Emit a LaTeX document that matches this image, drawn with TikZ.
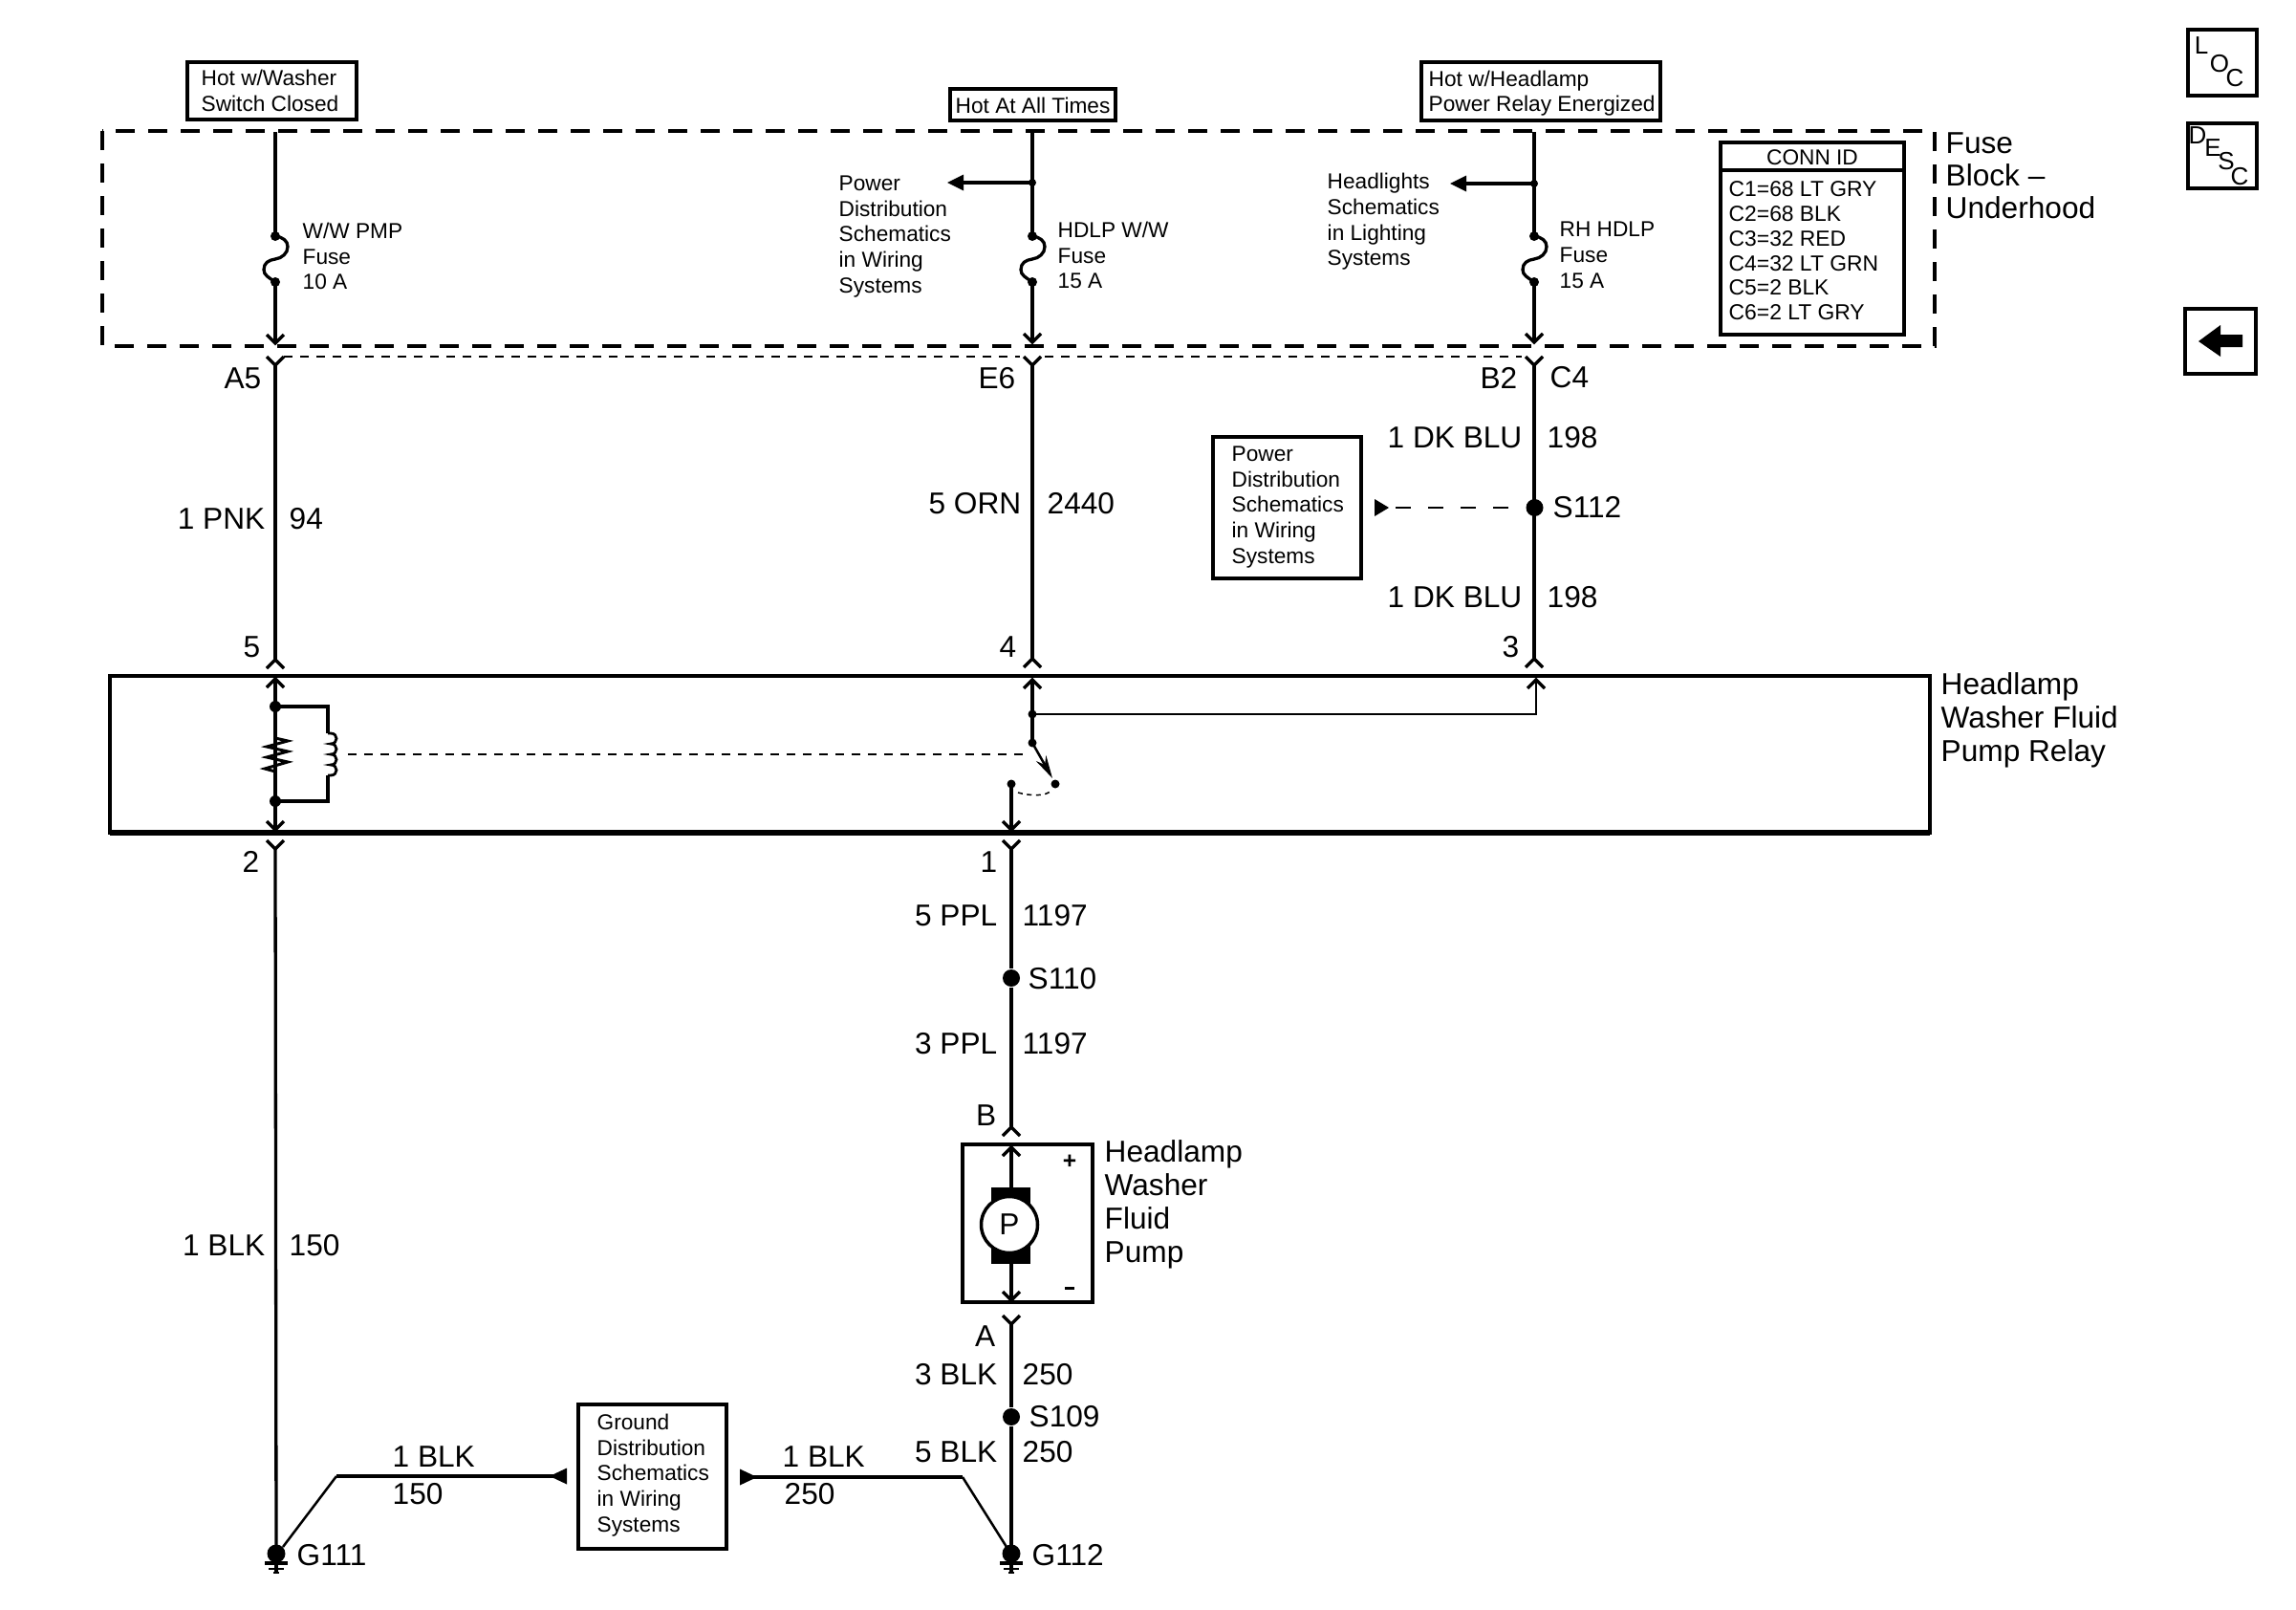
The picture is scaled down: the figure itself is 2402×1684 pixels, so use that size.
\documentclass[tikz,border=0pt]{standalone}
\usepackage{fontspec}
\usetikzlibrary{arrows.meta}
\setmainfont{Liberation Sans}
\tikzset{
  x=0.1mm,y=-0.1mm,
  wire/.style={line width=0.33mm,line cap=butt,line join=miter},
  hbox/.style={draw,line width=0.45mm,fill=white},
  lab/.style={font=\fontsize{9pt}{10pt}\selectfont,inner sep=0pt,align=left},
  tiny/.style={font=\fontsize{6.45pt}{7.6pt}\selectfont,inner sep=0pt,align=left},
  btn/.style={font=\fontsize{7.4pt}{8pt}\selectfont,inner sep=0pt},
  dot/.style={circle,fill=black,inner sep=0pt,minimum size=#1},
  dot/.default=1mm,
  coarse/.style={line width=0.38mm,dash pattern=on 2mm off 1.4mm},
  fine/.style={line width=0.17mm,dash pattern=on 0.85mm off 0.85mm},
}
% chevron with its vertex at the top: arms run downward
\newcommand{\chevUp}[1]{\draw[wire] ([shift={(-9,9)}]#1) -- (#1) -- ([shift={(9,9)}]#1);}
% chevron with its vertex at the bottom: arms run upward
\newcommand{\chevDn}[1]{\draw[wire] ([shift={(-9,-9)}]#1) -- (#1) -- ([shift={(9,-9)}]#1);}
\newcommand{\gnd}[1]{%
  \draw[line width=0.33mm] ([shift={(-12,10)}]#1) -- ([shift={(12,10)}]#1);
  \draw[line width=0.28mm] ([shift={(-8,16)}]#1) -- ([shift={(8,16)}]#1);
  \draw[line width=0.25mm] ([shift={(-3,20)}]#1) -- ([shift={(3,20)}]#1);
  \draw[wire] (#1) -- ([shift={(0,20)}]#1);}
\begin{document}
\begin{tikzpicture}
\useasboundingbox (0,0) rectangle (2402,1684);
% ---------- coordinates ----------
\coordinate (w1top) at (288,138);
\coordinate (w1f1) at (288,247);
\coordinate (w1f2) at (288,295);
\coordinate (w1tip) at (288,359);
\coordinate (w1y) at (288,382);
\coordinate (w1m) at (288,690);
\coordinate (w1i) at (288,710);
\coordinate (w1a) at (288,739);
\coordinate (w1b) at (288,838);
\coordinate (w1o) at (288,868);
\coordinate (w1d) at (288,888);
\coordinate (w2top) at (1080,138);
\coordinate (w2br) at (1080,191);
\coordinate (w2f1) at (1080,247);
\coordinate (w2f2) at (1080,295);
\coordinate (w2tip) at (1080,358);
\coordinate (w2y) at (1080,382);
\coordinate (w2m) at (1080,689);
\coordinate (w2i) at (1080,711);
\coordinate (w2j) at (1080,747);
\coordinate (w2s) at (1080,777);
\coordinate (w3top) at (1605,138);
\coordinate (w3br) at (1605,192);
\coordinate (w3f1) at (1605,247);
\coordinate (w3f2) at (1605,295);
\coordinate (w3tip) at (1605,358);
\coordinate (w3y) at (1605,382);
\coordinate (w3m) at (1605,689);
\coordinate (w3i) at (1607,711);
\coordinate (w3c) at (1607,747);
\coordinate (w4s) at (1058,820);
\coordinate (w4o) at (1058,868);
\coordinate (w4y) at (1058,888);
\coordinate (pm) at (1058,1179);
\coordinate (pi) at (1058,1200);
\coordinate (po) at (1058,1360);
\coordinate (py) at (1058,1385);
\coordinate (g1) at (289,1625);
\coordinate (g2) at (1058,1625);
\coordinate (gb1) at (352,1544);
\coordinate (gt1) at (582,1544);
\coordinate (gb2) at (1007,1545);
\coordinate (gt2) at (785,1545);
\coordinate (sw) at (1104,820);
\coordinate (rc1) at (343,739);
\coordinate (rc2) at (343,767);
\coordinate (rc3) at (343,811);
\coordinate (rc4) at (343,838);
% ---------- frames ----------
\draw[coarse] (107,137) rectangle (2024,362);
\draw[fine] (297,373) -- (1067,373) (1093,373) -- (1592,373);
\draw[line width=0.45mm] (115,707) rectangle (2019,871);
\draw[line width=0.55mm] (115,871) -- (2019,871);
% ---------- header boxes ----------
\node[hbox,minimum width=17.7mm,minimum height=6mm,inner sep=0pt] (hot1) at (284.5,95) {};
\node[tiny,anchor=west] (hot1t) at (210,95) {Hot w/Washer\\Switch Closed};
\node[hbox,minimum width=17.3mm,minimum height=3.3mm,inner sep=0pt] (hot2) at (1080.5,109.5) {};
\node[tiny,anchor=west] (hot2t) at (999,110) {Hot At All Times};
\node[hbox,minimum width=25mm,minimum height=6.1mm,inner sep=0pt] (hot3) at (1612,95.5) {};
\node[tiny,anchor=west] (hot3t) at (1494,97.5) {Hot w/Headlamp\\Power Relay Energized};
% ---------- wires inside the fuse block ----------
\foreach \w in {w1,w2,w3}{
  \draw[wire] (\w top) -- (\w f1);
  \draw[wire] (\w f1) .. controls +(8,1) and +(0,-6) .. ++(13,11) .. controls +(0,7) and +(7,-1) .. ++(-13,13)
     .. controls +(-7,1) and +(0,-7) .. ++(-12,11) .. controls +(0,6) and +(-7,-5) .. (\w f2);
  \draw[wire] (\w f2) -- (\w tip);
  \node[dot] at (\w f1) {};
  \node[dot] at (\w f2) {};
  \chevDn{\w tip}
  \chevDn{\w y}
}
\draw[wire] (w2br) -- (1000,191);
\fill (991,191) -- (1008,182.5) -- (1008,199.5) -- cycle;
\node[dot=0.8mm] at (w2br) {};
\draw[wire] (w3br) -- (1525,192);
\fill (1517,192) -- (1534,183.5) -- (1534,200.5) -- cycle;
\node[dot=0.8mm] at (w3br) {};
\node[tiny,anchor=west] (f1t) at (316,268) {W/W PMP\\Fuse\\10 A};
\node[tiny,anchor=west] (f2t) at (1106,267) {HDLP W/W\\Fuse\\15 A};
\node[tiny,anchor=west] (f3t) at (1631,267) {RH HDLP\\Fuse\\15 A};
\node[tiny,anchor=west] (pd1) at (877,247.5) {Power\\Distribution\\Schematics\\in Wiring\\Systems};
\node[tiny,anchor=west] (hl1) at (1388,232) {Headlights\\Schematics\\in Lighting\\Systems};
% ---------- connector table ----------
\node[draw,line width=0.45mm,minimum width=19.2mm,minimum height=20.1mm,inner sep=0pt] (conn) at (1896,249.5) {};
\draw[line width=0.35mm] (1800,178) -- (1992,178);
\node[tiny] (connh) at (1896,165) {CONN ID};
\node[tiny,anchor=north west,font=\fontsize{6.5pt}{7.35pt}\selectfont] (connb) at (1808,189) {C1=68 LT GRY\\C2=68 BLK\\C3=32 RED\\C4=32 LT GRN\\C5=2 BLK\\C6=2 LT GRY};
\node[lab,anchor=west,font=\fontsize{9pt}{9.7pt}\selectfont] (fb) at (2035,184) {Fuse\\Block --\\Underhood};
% ---------- wires between block and relay ----------
\draw[wire] (w1y) -- (w1m);
\draw[wire] (w2y) -- (w2m);
\draw[wire] (w3y) -- (w3m);
\chevUp{w1m} \chevUp{w2m} \chevUp{w3m}
\node[lab,anchor=east] (a5) at (274,396) {A5};
\node[lab,anchor=east] (e6) at (1063,396) {E6};
\node[lab,anchor=east] (b2) at (1588,395) {B2};
\node[lab,anchor=west] (c4) at (1621,395) {C4};
\node[lab,anchor=east] (l1a) at (278,543) {1 PNK};
\node[lab,anchor=west] (l1b) at (302,543) {94};
\node[lab,anchor=east] (l2a) at (1069,527) {5 ORN};
\node[lab,anchor=west] (l2b) at (1095,527) {2440};
\node[lab,anchor=east] (l3a) at (1593,458) {1 DK BLU};
\node[lab,anchor=west] (l3b) at (1618,458) {198};
\node[lab,anchor=east] (l4a) at (1593,625) {1 DK BLU};
\node[lab,anchor=west] (l4b) at (1618,625) {198};
\node[lab,anchor=east] (p5) at (273,677) {5};
\node[lab,anchor=east] (p4) at (1064,677) {4};
\node[lab,anchor=east] (p3) at (1590,677) {3};
\node[hbox,minimum width=15.5mm,minimum height=14.8mm,inner sep=0pt] (pwr) at (1346.5,531) {};
\node[tiny,anchor=west] (pwrt) at (1288,530.5) {Power\\Distribution\\Schematics\\in Wiring\\Systems};
\fill (1453,531) -- (1438,522) -- (1438,540) -- cycle;
\node[dot=1.8mm] (s112) at (1605.5,531) {};
\coordinate (s112tail) at (1460,531);
\draw[line width=0.28mm,dash pattern=on 1.6mm off 1.8mm] (s112tail) -- (s112);
\node[lab,anchor=west] (s112t) at (1624,531) {S112};
% ---------- relay ----------
\chevUp{w1i}
\draw[wire] (w1i) -- (w1o);
\chevDn{w1o}
\node[dot=1.2mm] at (w1a) {};
\node[dot=1.2mm] at (w1b) {};
\draw[wire] (w1a) -- (rc1) -- (rc2);
\draw[wire] (rc3) -- (rc4) -- (w1b);
\draw[wire,line width=0.28mm] (rc2) -- ++(3,0) .. controls +(8,0) and +(8,0) .. ++(0,11) .. controls +(8,0) and +(8,0) .. ++(0,11)
   .. controls +(8,0) and +(8,0) .. ++(0,11) .. controls +(8,0) and +(8,0) .. ++(0,11) -- (rc3);
\draw[line width=0.3mm,line join=miter] (288,772) -- (301,775) -- (279,781) -- (301,786) -- (279,792) -- (301,797) -- (277,804) -- (288,807);
\draw[fine] (364,789) -- (1077,789);
\chevUp{w2i}
\draw[wire] (w2i) -- (w2s);
\node[dot=0.9mm] at (w2j) {};
\node[dot=0.9mm] at (w2s) {};
\draw[wire,line width=0.28mm] (w2j) -- (w3c) -- (w3i);
\chevUp{w3i}
\draw[line width=0.25mm,-{Stealth[length=2.4mm,width=1.2mm]}] (w2s) -- (1101,814);
\node[dot=0.9mm] at (sw) {};
\node[dot=0.9mm] at (w4s) {};
\draw[wire] (w4s) -- (w4o);
\chevDn{w4o}
\draw[line width=0.15mm,dash pattern=on 0.5mm off 0.45mm] (1065,829) .. controls (1075,832) and (1096,834) .. (1100,826);
\node[lab,anchor=west] (rel) at (2030,753) {Headlamp\\Washer Fluid\\Pump Relay};
% ---------- below the relay ----------
\chevDn{w1d} \chevDn{w4y}
\node[lab,anchor=east] (p2) at (272,901) {2};
\node[lab,anchor=east] (p1) at (1044,902) {1};
\draw[wire] (w1d) -- (g1);
\node[lab,anchor=east] (l5a) at (278,1303) {1 BLK};
\node[lab,anchor=west] (l5b) at (302,1303) {150};
\node[dot=1.8mm] (s110) at (1058,1023) {};
\draw[wire] (w4y) -- (s110) -- (pm);
\chevUp{pm}
\node[lab,anchor=east] (l6a) at (1044,958) {5 PPL};
\node[lab,anchor=west] (l6b) at (1069,958) {1197};
\node[lab,anchor=west] (s110t) at (1075,1024) {S110};
\node[lab,anchor=east] (l7a) at (1044,1092) {3 PPL};
\node[lab,anchor=west] (l7b) at (1069,1092) {1197};
\node[lab,anchor=east] (pb) at (1043,1167) {B};
% ---------- pump ----------
\node[hbox,minimum width=13.6mm,minimum height=16.5mm,inner sep=0pt] (pump) at (1075,1279.5) {};
\draw[wire] (pi) -- (po);
\chevUp{pi} \chevDn{po}
\fill (1037,1242) rectangle (1078,1322);
\node[circle,draw,line width=0.35mm,fill=white,minimum size=5.9mm,inner sep=0pt,font=\fontsize{9pt}{10pt}\selectfont] (pumpc) at (1056,1281) {P};
\node[font=\bfseries\fontsize{7pt}{7pt}\selectfont,inner sep=0pt] (plus) at (1119,1215) {+};
\draw[line width=0.3mm] (1114,1347) -- (1124,1347);
\node[lab,anchor=west] (pumpt) at (1155,1260) {Headlamp\\Washer\\Fluid\\Pump};
\chevDn{py}
\node[lab,anchor=east] (pa) at (1042,1398) {A};
\node[dot=1.8mm] (s109) at (1058,1482) {};
\draw[wire] (py) -- (s109) -- (g2);
\node[lab,anchor=east] (l8a) at (1044,1438) {3 BLK};
\node[lab,anchor=west] (l8b) at (1069,1438) {250};
\node[lab,anchor=west] (s109t) at (1076,1482) {S109};
\node[lab,anchor=east] (l9a) at (1044,1519) {5 BLK};
\node[lab,anchor=west] (l9b) at (1069,1519) {250};
% ---------- ground ----------
\node[hbox,minimum width=15.5mm,minimum height=15.1mm,inner sep=0pt] (gndb) at (682.5,1544.5) {};
\node[tiny,anchor=west] (gndt) at (624,1543) {Ground\\Distribution\\Schematics\\in Wiring\\Systems};
\fill (575,1544) -- (593,1535.5) -- (593,1552.5) -- cycle;
\draw[wire] (gt1) -- (gb1);
\draw[line width=0.25mm] (gb1) -- (296,1618);
\fill (792,1545) -- (774,1536.5) -- (774,1553.5) -- cycle;
\draw[wire] (gt2) -- (gb2);
\draw[line width=0.25mm] (gb2) -- (1053,1618);
\node[lab,anchor=west] (g3a) at (410,1524) {1 BLK};
\node[lab,anchor=west] (g3b) at (410,1563) {150};
\node[lab,anchor=west] (g4a) at (818,1524) {1 BLK};
\node[lab,anchor=west] (g4b) at (820,1563) {250};
\node[dot=1.9mm] at (g1) {};
\node[dot=1.9mm] at (g2) {};
\gnd{g1} \gnd{g2}
\node[lab,anchor=west] (g111) at (310,1627) {G111};
\node[lab,anchor=west] (g112) at (1079,1627) {G112};
% ---------- side buttons ----------
\node[hbox,minimum width=7.2mm,minimum height=6.9mm,inner sep=0pt] (loc) at (2325,65.5) {};
\node[btn] (locl) at (2303,48) {L};
\node[btn] (loco) at (2322,67) {O};
\node[btn] (locc) at (2338,82) {C};
\node[hbox,minimum width=7.2mm,minimum height=6.8mm,inner sep=0pt] (desc) at (2325,163) {};
\node[btn] (dd) at (2299,142) {D};
\node[btn] (de) at (2315,155) {E};
\node[btn] (ds) at (2329,169) {S};
\node[btn] (dc) at (2343,185) {C};
\node[hbox,minimum width=7.4mm,minimum height=6.8mm,inner sep=0pt] (back) at (2323,357) {};
\fill (2300,357) -- (2323,340) -- (2323,350) -- (2346,350) -- (2346,363) -- (2323,363) -- (2323,373) -- cycle;
\end{tikzpicture}
\end{document}
